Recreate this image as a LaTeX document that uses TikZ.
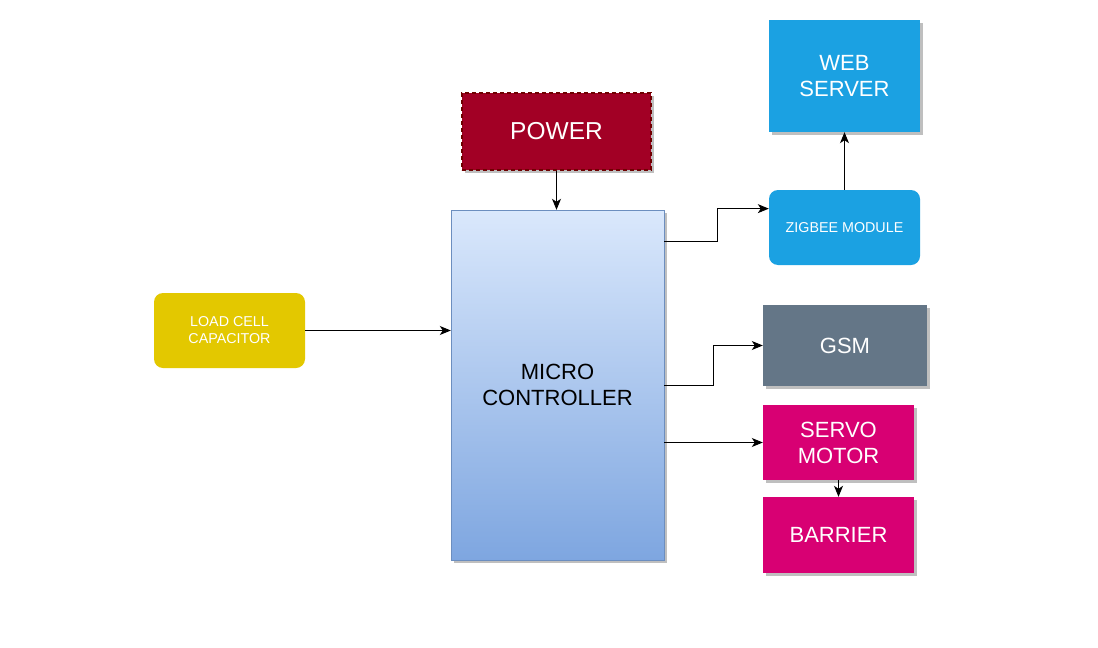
\documentclass[tikz,border=0pt]{standalone}
\usepackage{fontspec}
\setmainfont{Liberation Sans}
\usetikzlibrary{arrows.meta,shadows,calc}

\definecolor{powerred}{HTML}{A20025}
\definecolor{powerline}{HTML}{6F0000}
\definecolor{mctop}{HTML}{DAE8FC}
\definecolor{mcbottom}{HTML}{7EA6E0}
\definecolor{mcline}{HTML}{6C8EBF}
\definecolor{loadyellow}{HTML}{E3C800}
\definecolor{zigblue}{HTML}{1BA1E2}
\definecolor{gsmgray}{HTML}{647687}
\definecolor{servopink}{HTML}{D80073}

\tikzset{
	shade box/.style={drop shadow={shadow xshift=3pt,shadow yshift=-3pt,fill=black!25,opacity=1}},
	block/.style={rectangle,inner sep=2pt,align=center,text=white,font=\fontsize{22}{26}\selectfont},
	smallblock/.style={rectangle,rounded corners=9pt,inner sep=2pt,align=center,text=white,
		minimum width=151pt,minimum height=75pt,font=\fontsize{14.3}{17}\selectfont},
	link/.style={draw=black,line width=1pt,-{Stealth[length=11pt,width=9pt,inset=3pt]}}
}

\begin{document}
\begin{tikzpicture}[x=1pt,y=-1pt]
				\useasboundingbox [fill=white] (0,0) rectangle (1098,648);
				\node [block,shade box,fill=powerred,draw=powerline,line width=1.5pt,dash pattern=on 4pt off 3pt,
					minimum width=189pt,minimum height=77pt,font=\fontsize{24.5}{29}\selectfont] (power) at (556.5,131.5) {POWER};
				\node [block,shade box,top color=mctop,bottom color=mcbottom,draw=mcline,text=black,
					minimum width=213pt,minimum height=350pt] (mc) at (557.5,385) {MICRO\\CONTROLLER};
				\node [smallblock,fill=loadyellow] (load) at (229.5,330.5) {LOAD CELL\\CAPACITOR};
				\node [smallblock,fill=zigblue] (zigbee) at (844.5,227.5) {ZIGBEE MODULE};
				\node [block,shade box,fill=zigblue,minimum width=151pt,minimum height=112pt] (web) at (844.5,76) {WEB\\SERVER};
				\node [block,shade box,fill=gsmgray,minimum width=164pt,minimum height=81pt] (gsm) at (845,345.5) {GSM};
				\node [block,shade box,fill=servopink,minimum width=151pt,minimum height=75pt] (servo) at (838.5,442.5) {SERVO\\MOTOR};
				\node [block,shade box,fill=servopink,minimum width=151pt,minimum height=76pt] (barrier) at (838.5,535) {BARRIER};
				\coordinate (mcout) at ($(mc.north east)!0.0914!(mc.south east)$);
				\coordinate (zigin) at ($(zigbee.north west)!0.25!(zigbee.south west)$);
				\draw [link] (power.south) -- (power.south |- mc.north);
				\draw [link] (load.east) -- (load.east -| mc.west);
				\draw [link] (mcout) -- ++(53,0) |- (zigin);
				\draw [link] (mc.east) -- ++(49,0) |- (gsm.west);
				\draw [link] (servo.west -| mc.east) -- (servo.west);
				\draw [link] (servo.south) -- (barrier.north);
				\draw [link] (zigbee.north) -- (web.south);
			\end{tikzpicture}
\end{document}
